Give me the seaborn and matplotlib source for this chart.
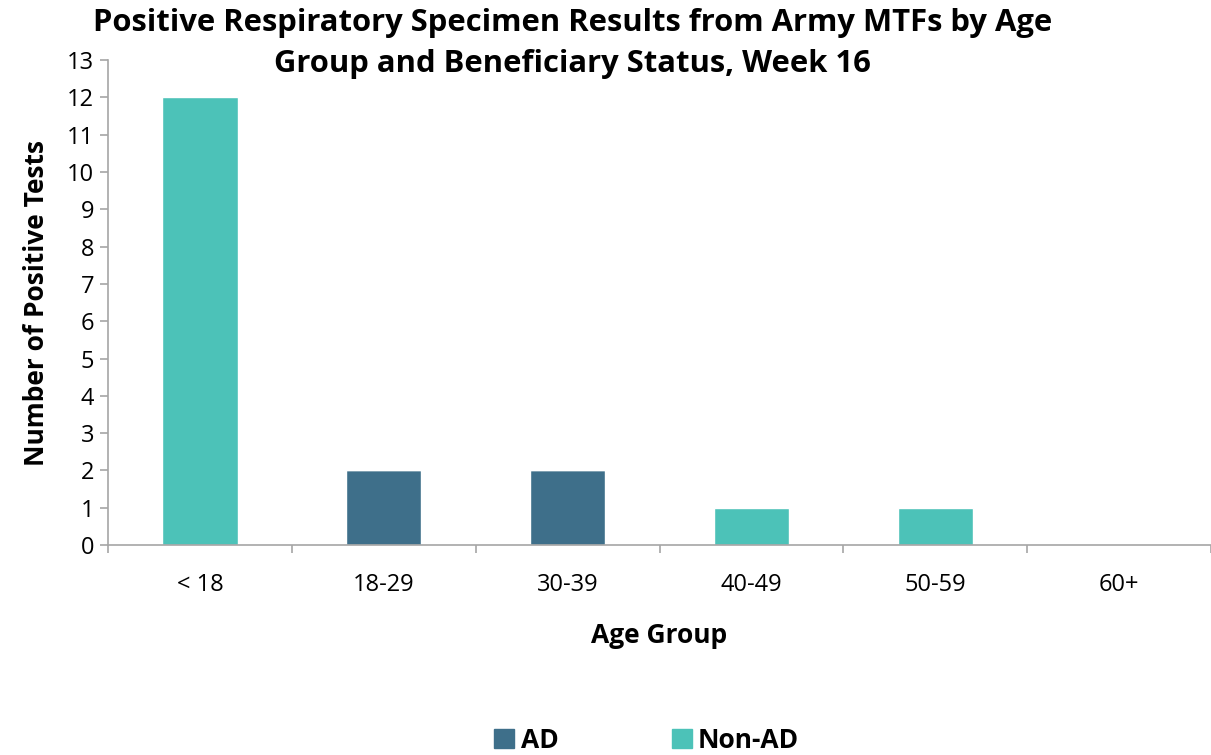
import matplotlib
matplotlib.use("Agg")
import matplotlib.pyplot as plt
from matplotlib.patches import Patch
import numpy as np
import seaborn as sns

# data
age_groups = ["< 18", "18-29", "30-39", "40-49", "50-59", "60+"]
ad_counts = [0, 2, 2, 0, 0, 0]
non_ad_counts = [12, 0, 0, 1, 1, 0]

ad_color = "#3E6F8A"
non_ad_color = "#4CC2B8"
axis_gray = "#A6A6A6"

sns.set_theme(style="white")
plt.rcParams["font.family"] = ["Open Sans", "DejaVu Sans"]
plt.rcParams["text.color"] = "black"
plt.rcParams["axes.labelcolor"] = "black"

fig = plt.figure(figsize=(12.11, 7.55), dpi=100)
ax = fig.add_axes([0.0892, 0.278, 0.9108, 0.6425])

sns.barplot(x=age_groups, y=ad_counts, color=ad_color, width=0.41,
            saturation=1, ax=ax)
sns.barplot(x=age_groups, y=non_ad_counts, bottom=ad_counts, color=non_ad_color,
            width=0.41, saturation=1, ax=ax)

ax.set_xlim(-0.5, len(age_groups) - 0.5)
ax.set_ylim(0, 13)
ax.set_yticks(range(0, 14))
ax.tick_params(axis="y", labelsize=17, length=6, width=1.2, color=axis_gray,
               left=True, pad=4, labelcolor="black")
ax.tick_params(axis="x", which="major", labelsize=17, length=0, pad=20,
               labelcolor="black")
ax.set_xticks(np.arange(-0.5, len(age_groups)), minor=True)
ax.tick_params(axis="x", which="minor", length=6, width=1.2, color=axis_gray,
               bottom=True)

for side in ["top", "right"]:
    ax.spines[side].set_visible(False)
for side in ["left", "bottom"]:
    ax.spines[side].set_color(axis_gray)
    ax.spines[side].set_linewidth(1.2)

ax.set_xlabel("Age Group", fontsize=19, fontweight="bold", labelpad=18)
ax.set_ylabel("Number of Positive Tests", fontsize=19, fontweight="bold", labelpad=12)

fig.text(0.473, 0.99, "Positive Respiratory Specimen Results from Army MTFs by Age\n"
         "Group and Beneficiary Status, Week 16", ha="center", va="top",
         fontsize=22.3, fontweight="bold", linespacing=1.5)

handles = [Patch(color=ad_color, label="AD"), Patch(color=non_ad_color, label="Non-AD")]
fig.legend(handles=handles, loc="lower center", bbox_to_anchor=(0.534, -0.03), ncol=2,
           frameon=False, prop={"weight": "bold", "size": 19}, handlelength=0.75,
           handleheight=0.75, handletextpad=0.25, columnspacing=4.3)

fig.savefig("out.png", dpi=100)
